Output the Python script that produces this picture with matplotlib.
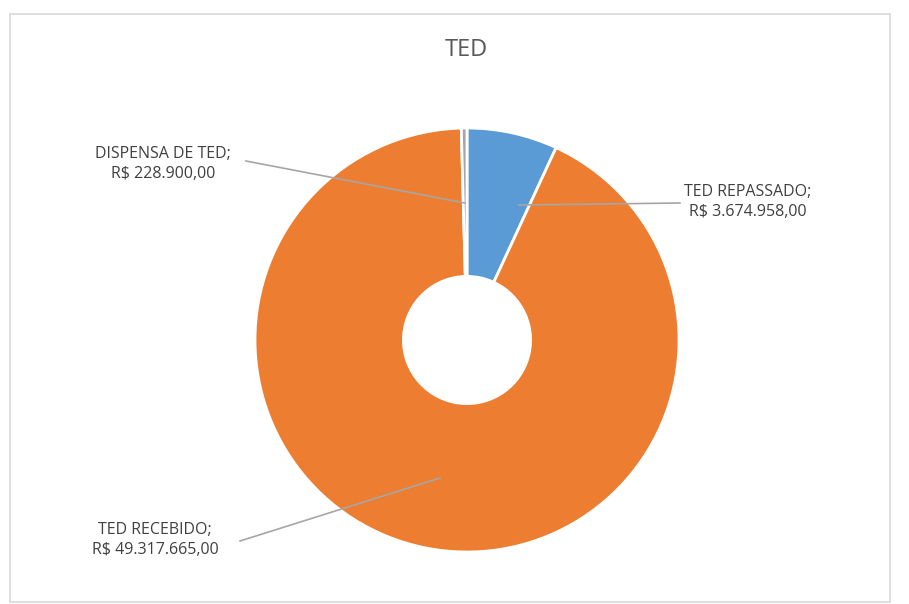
import matplotlib.pyplot as plt
from matplotlib.patches import Rectangle

# Values of the TED donut
labels = ['TED REPASSADO', 'TED RECEBIDO', 'DISPENSA DE TED']
values = [3674958.00, 49317665.00, 228900.00]
value_text = ['R$ 3.674.958,00', 'R$ 49.317.665,00', 'R$ 228.900,00']
colors = ['#5B9BD5', '#ED7D31', '#A5A5A5']

W, H = 909, 604
fig = plt.figure(figsize=(W / 100, H / 100), dpi=100)
ax = fig.add_axes([0, 0, 1, 1])

# chart frame (light gray, like the Excel chart area)
ax.add_patch(Rectangle((9.5, 2), 880, H - 14 - 2, fill=False,
                       edgecolor='#D9D9D9', linewidth=1.2))

cx, cy, r = 467, H - 340, 212
wedges, _ = ax.pie(values, colors=colors, startangle=90, counterclock=False,
                   center=(cx, cy), radius=r, frame=True,
                   wedgeprops=dict(width=r * 0.70, edgecolor='white', linewidth=2))
ax.set_xlim(0, W)
ax.set_ylim(0, H)
ax.set_aspect('equal')
ax.axis('off')

ax.text(466, H - 50, 'TED', ha='center', va='center', fontsize=17,
        color='#595959', family='Open Sans')

font = dict(fontsize=11.5, color='#404040', family='Open Sans', ha='center',
            va='center', linespacing=1.25)
line = dict(color='#A6A6A6', linewidth=1.2)

# TED REPASSADO
ax.plot([519, 680], [H - 205, H - 203], **line)
ax.text(748, H - 202, f'{labels[0]};\n{value_text[0]}', **font)
# TED RECEBIDO
ax.plot([440, 240], [H - 478, H - 541], **line)
ax.text(155, H - 540, f'{labels[1]};\n{value_text[1]}', **font)
# DISPENSA DE TED
ax.plot([465, 246], [H - 203, H - 161], **line)
ax.text(163, H - 164, f'{labels[2]};\n{value_text[2]}', **font)

fig.savefig('out.png', dpi=100, facecolor='white')
